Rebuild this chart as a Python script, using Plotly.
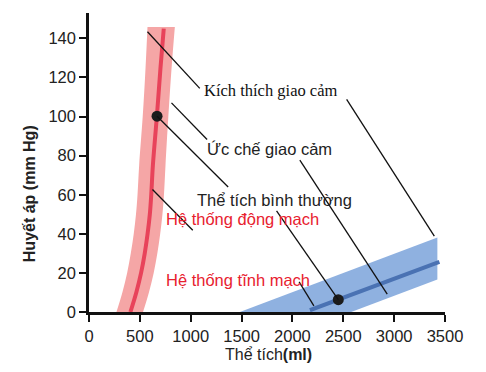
import plotly.graph_objects as go

# ---- data ----
art_p = [0, 10, 20, 30, 40, 50, 60, 75, 100, 125, 145]          # mmHg
art_v = [407, 465, 512, 548, 576, 598, 612, 628, 667, 703, 735]  # ml
art_band_p = [0, 10, 20, 30, 40, 50, 60, 75, 100, 125, 145.8]
art_band_left = [270, 328, 375, 411, 440, 462, 477, 493, 528, 556, 575]
art_band_right = [531, 589, 636, 672, 700, 722, 737, 752, 780, 812, 844]

ven_v = [2172, 3445]
ven_p = [0.9, 25.6]
ven_band_v = [1483, 3425, 3425, 2578]
ven_band_p = [0, 38.1, 16.6, 0]

normal_v = [669, 2451]
normal_p = [100.2, 6.3]

x_ticks = [0, 500, 1000, 1500, 2000, 2500, 3000, 3500]
y_ticks = [0, 20, 40, 60, 80, 100, 120, 140]

# label texts with anchor (ml, mmHg)
labels = [
    ("Kích thích giao cảm", 1788, 113.2, "Liberation Serif", "#111111"),
    ("Ức chế giao cảm", 1778, 83.3, "Liberation Sans", "#222222"),
    ("Thể tích bình thường", 1824, 57.2, "Liberation Sans", "#222222"),
    ("Hệ thống động mạch", 1512, 47.8, "Liberation Sans", "#e8212f"),
    ("Hệ thống tĩnh mạch", 1463, 16.6, "Liberation Sans", "#e8212f"),
]
# leader lines (ml, mmHg) -> (ml, mmHg)
leaders = [
    (575, 143.4, 1089, 114.4),
    (2533, 108.8, 3395, 38.8),
    (811, 107.0, 1161, 88.3),
    (2073, 77.7, 2932, 9.1),
    (669, 100.2, 1368, 64.0),
    (1844, 51.7, 2451, 6.3),
    (624, 62.7, 1020, 41.8),
    (2066, 15.4, 2211, 3.1),
]

fig = go.Figure()

# arterial band (left edge, then right edge filled to it)
fig.add_trace(go.Scatter(
    x=art_band_left, y=art_band_p, mode="lines",
    line=dict(width=0, color="#f5a6a6", shape="spline"),
    hoverinfo="skip", showlegend=False))
fig.add_trace(go.Scatter(
    x=art_band_right, y=art_band_p, mode="lines", fill="tonextx",
    fillcolor="#f5a6a6", line=dict(width=0, color="#f5a6a6", shape="spline"),
    hoverinfo="skip", showlegend=False))
# venous band
fig.add_trace(go.Scatter(
    x=ven_band_v, y=ven_band_p, fill="toself", fillcolor="#8fb1e0",
    line=dict(width=0), mode="lines", hoverinfo="skip", showlegend=False))
# arterial curve
fig.add_trace(go.Scatter(
    x=art_v, y=art_p, mode="lines", line=dict(color="#e8435a", width=4, shape="spline"),
    showlegend=False))
# venous line
fig.add_trace(go.Scatter(
    x=ven_v, y=ven_p, mode="lines", line=dict(color="#4a72b3", width=4),
    showlegend=False))

for x0, y0, x1, y1 in leaders:
    fig.add_shape(type="line", xref="x", yref="y", x0=x0, y0=y0, x1=x1, y1=y1,
                  line=dict(color="#111111", width=1.3), layer="above")

# normal volume dots
fig.add_trace(go.Scatter(
    x=normal_v, y=normal_p, mode="markers",
    marker=dict(color="#1c1c1c", size=11), showlegend=False))

for text, x, y, fam, col in labels:
    fig.add_annotation(x=x, y=y, xref="x", yref="y", text=text, showarrow=False,
                       font=dict(family=fam, size=16.5, color=col),
                       xanchor="center", yanchor="middle")

# axis titles
fig.add_annotation(x=0.504, y=0, xref="paper", yref="paper", yshift=-42,
                   text="Thể tích<b>(ml)</b>", showarrow=False,
                   font=dict(family="Liberation Sans", size=16, color="#222222"),
                   xanchor="center", yanchor="middle")
fig.add_annotation(x=0, y=0.394, xref="paper", yref="paper", xshift=-60,
                   text="<b>Huyết áp (mm Hg)</b>", showarrow=False, textangle=-90,
                   font=dict(family="Liberation Sans", size=16, color="#222222"),
                   xanchor="center", yanchor="middle")

axis_common = dict(showline=True, linecolor="#111111", linewidth=2.5,
                   ticks="outside", ticklen=7, tickwidth=2, tickcolor="#111111",
                   showgrid=False, zeroline=False,
                   tickfont=dict(family="Liberation Sans", size=16.5, color="#222222"))
fig.update_xaxes(range=[0, 3500], tickvals=x_ticks, **axis_common)
fig.update_yaxes(range=[0, 153], tickvals=y_ticks, **axis_common)

fig.update_layout(width=486, height=372,
                  margin=dict(l=81, r=49, t=5, b=68),
                  plot_bgcolor="white", paper_bgcolor="white",
                  showlegend=False)

fig.write_html("out.html")
